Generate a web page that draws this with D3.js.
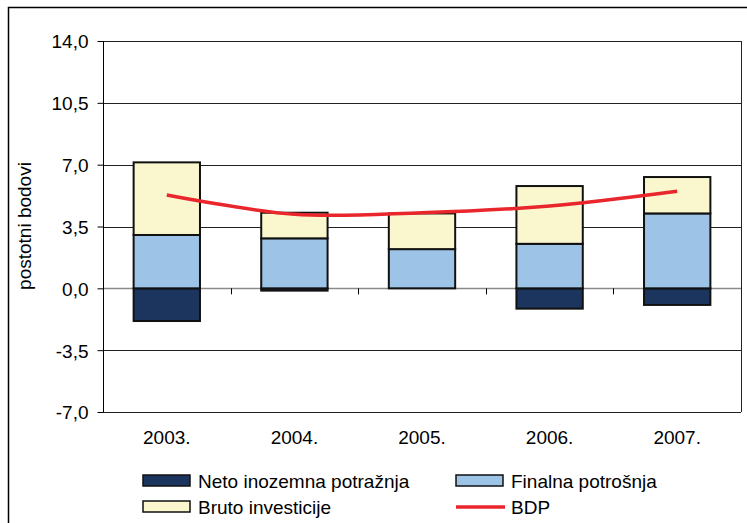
<!DOCTYPE html>
<html>
<head>
<meta charset="utf-8">
<script src="https://cdn.jsdelivr.net/npm/d3@7"></script>
<style>
  body { margin: 0; background: #fff; }
  svg text { font-family: "Liberation Sans", Arial, sans-serif; fill: #000; }
</style>
</head>
<body>
<div id="chart"></div>
<script>
var years = ["2003.", "2004.", "2005.", "2006.", "2007."]
var neto = [-1.85, -0.13, 0.0, -1.15, -0.94]
var finalna = [3.02, 2.83, 2.22, 2.52, 4.24]
var bruto = [4.11, 1.45, 2.02, 3.27, 2.06]
var bdp = [5.28, 4.19, 4.28, 4.66, 5.49]
var yTicks = [-7, -3.5, 0, 3.5, 7, 10.5, 14]

var seriesNames = ["Neto inozemna potražnja", "Finalna potrošnja", "Bruto investicije", "BDP"]
var colors = ["#1c355e", "#9dc3e6", "#faf7cf", "#e8262b"]

var width = 747
var height = 523
var fontSize = 19

var svg = d3.select("#chart").append("svg")
  .attr("width", width).attr("height", height)

// outer frame (right & bottom run off the picture)
svg.append("rect")
  .attr("x", 8.5).attr("y", 7.5)
  .attr("width", 760).attr("height", 540)
  .attr("fill", "none").attr("stroke", "#000").attr("stroke-width", 1.5)

var plot = { left: 103, right: 741, top: 41, bottom: 412 }

var x = d3.scaleBand()
  .domain(years)
  .range([plot.left, plot.right])
  .paddingInner(0.48).paddingOuter(0.24)

var xOuter = d3.scaleBand()
  .domain(years)
  .range([plot.left, plot.right])

var y = d3.scaleLinear()
  .domain([-7, 14])
  .range([plot.bottom, plot.top])

// gridlines
svg.append("g")
  .selectAll("line")
  .data(yTicks)
  .enter().append("line")
  .attr("x1", plot.left).attr("x2", plot.right)
  .attr("y1", function(d) { return Math.round(y(d)) + 0.5 })
  .attr("y2", function(d) { return Math.round(y(d)) + 0.5 })
  .attr("stroke", function(d) { return d === 0 ? "#8a8a8a" : "#222" })
  .attr("stroke-width", function(d) { return d === 0 ? 1.5 : 1 })

// right border of plot area
svg.append("line")
  .attr("x1", plot.right + 0.5).attr("x2", plot.right + 0.5)
  .attr("y1", plot.top).attr("y2", plot.bottom)
  .attr("stroke", "#222")

// y axis
var yAxis = d3.axisLeft(y)
  .tickValues(yTicks)
  .tickSize(6)
  .tickFormat(function(d) { return d3.format(".1f")(d).replace(".", ",").replace("−", "-") })

var gy = svg.append("g")
  .attr("transform", "translate(" + (plot.left + 0.5) + ",0)")
  .call(yAxis)
gy.select(".domain").attr("stroke", "#000").attr("d", "M0," + plot.top + "V" + plot.bottom)
gy.selectAll(".tick line").attr("stroke", "#000")
gy.selectAll("text")
  .attr("font-size", fontSize)
  .attr("x", -15)
  .attr("dy", "0.36em")
  .style("font-family", "Liberation Sans, Arial, sans-serif")

// category tick marks on zero line
svg.append("g")
  .selectAll("line")
  .data(years.slice(1))
  .enter().append("line")
  .attr("x1", function(d) { return Math.round(xOuter(d)) + 0.5 })
  .attr("x2", function(d) { return Math.round(xOuter(d)) + 0.5 })
  .attr("y1", y(0)).attr("y2", y(0) + 6)
  .attr("stroke", "#000")

// stacked bars (negatives go down from zero, positives stack up)
var stacks = []
years.forEach(function(yr, i) {
  var pos = 0
  var negv = 0
  var vals = [neto[i], finalna[i], bruto[i]]
  vals.forEach(function(v, k) {
    var y0, y1
    if (v < 0) { y0 = negv; y1 = negv + v; negv = y1 }
    else { y0 = pos; y1 = pos + v; pos = y1 }
    stacks.push({ year: yr, k: k, y0: y0, y1: y1 })
  })
})

svg.append("g")
  .selectAll("rect")
  .data(stacks.filter(function(d) { return d.y0 !== d.y1 }))
  .enter().append("rect")
  .attr("x", function(d) { return x(d.year) })
  .attr("width", x.bandwidth())
  .attr("y", function(d) { return y(Math.max(d.y0, d.y1)) })
  .attr("height", function(d) { return Math.abs(y(d.y0) - y(d.y1)) })
  .attr("fill", function(d) { return colors[d.k] })
  .attr("stroke", "#111")
  .attr("stroke-width", 2)

// BDP line
var line = d3.line()
  .x(function(d, i) { return x(years[i]) + x.bandwidth() / 2 })
  .y(function(d) { return y(d) })
  .curve(d3.curveCatmullRom.alpha(0.5))

svg.append("path")
  .datum(bdp)
  .attr("d", line)
  .attr("fill", "none")
  .attr("stroke", colors[3])
  .attr("stroke-width", 3.5)

// x labels
svg.append("g")
  .selectAll("text")
  .data(years)
  .enter().append("text")
  .attr("x", function(d) { return x(d) + x.bandwidth() / 2 })
  .attr("y", 444)
  .attr("text-anchor", "middle")
  .attr("font-size", fontSize)
  .text(function(d) { return d })

// y title
svg.append("text")
  .attr("transform", "translate(31,226) rotate(-90)")
  .attr("text-anchor", "middle")
  .attr("font-size", fontSize)
  .text("postotni bodovi")

// legend
var legendItems = [
  { name: seriesNames[0], c: colors[0], type: "box", lx: 143, ly: 481 },
  { name: seriesNames[1], c: colors[1], type: "box", lx: 456, ly: 481 },
  { name: seriesNames[2], c: colors[2], type: "box", lx: 143, ly: 507 },
  { name: seriesNames[3], c: colors[3], type: "line", lx: 456, ly: 507 }
]

var lg = svg.append("g").selectAll("g")
  .data(legendItems)
  .enter().append("g")
  .attr("transform", function(d) { return "translate(" + d.lx + "," + d.ly + ")" })

lg.filter(function(d) { return d.type === "box" })
  .append("rect")
  .attr("x", 0).attr("y", -6)
  .attr("width", 47).attr("height", 11)
  .attr("fill", function(d) { return d.c })
  .attr("stroke", "#111").attr("stroke-width", 1.5)

lg.filter(function(d) { return d.type === "line" })
  .append("line")
  .attr("x1", 0).attr("x2", 49)
  .attr("y1", 0).attr("y2", 0)
  .attr("stroke", function(d) { return d.c })
  .attr("stroke-width", 3.5)

lg.append("text")
  .attr("x", 55)
  .attr("y", 7)
  .attr("font-size", fontSize)
  .text(function(d) { return d.name })
</script>
</body>
</html>
